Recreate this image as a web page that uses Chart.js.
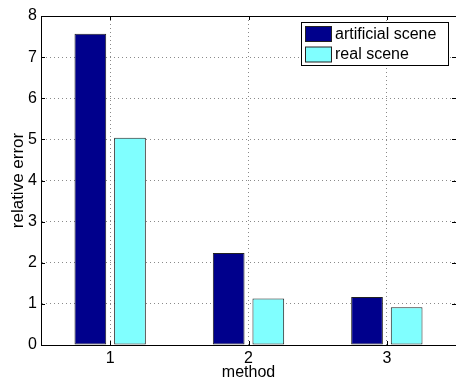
<!DOCTYPE html>
<html>
<head>
<meta charset="utf-8">
<script src="https://cdn.jsdelivr.net/npm/chart.js@4/dist/chart.umd.min.js"></script>
<style>
  html, body { margin: 0; padding: 0; background: #fff; overflow: hidden; }
  #wrap { width: 456px; height: 381px; }
</style>
</head>
<body>
<div id="wrap"><canvas id="c" width="456" height="381"></canvas></div>
<script>
// Relative error of each method for the two scenes
const methods = ['1', '2', '3'];
const artificialScene = [7.57, 2.24, 1.17];
const realScene = [5.04, 1.13, 0.92];
const yTicks = [0, 1, 2, 3, 4, 5, 6, 7, 8];
const seriesNames = ['artificial scene', 'real scene'];
const seriesColors = ['#00008C', '#80FFFF'];

const FONT = 'Liberation Sans, Arial, Helvetica, sans-serif';

// MATLAB-style box: top/right border and inward tick marks on all four sides
const boxAndTicks = {
  id: 'boxAndTicks',
  afterDatasetsDraw(chart) {
    const { ctx, chartArea: a, scales: { x, y } } = chart;
    ctx.save();
    ctx.strokeStyle = '#000';
    ctx.lineWidth = 1;
    ctx.beginPath();
    ctx.moveTo(a.left, Math.round(a.top) + 0.5);
    ctx.lineTo(a.right, Math.round(a.top) + 0.5);
    ctx.moveTo(Math.round(a.right) + 0.5, a.top);
    ctx.lineTo(Math.round(a.right) + 0.5, a.bottom);
    const len = 4;
    yTicks.forEach(v => {
      const py = Math.round(y.getPixelForValue(v)) + 0.5;
      ctx.moveTo(a.left, py); ctx.lineTo(a.left + len, py);
      ctx.moveTo(a.right, py); ctx.lineTo(a.right - len, py);
    });
    methods.forEach((m, i) => {
      const px = Math.round(x.getPixelForValue(i)) + 0.5;
      ctx.moveTo(px, a.bottom); ctx.lineTo(px, a.bottom - len);
      ctx.moveTo(px, a.top); ctx.lineTo(px, a.top + len);
    });
    ctx.stroke();
    ctx.restore();
  }
};

// Boxed legend inside the upper-right corner of the axes
const boxLegend = {
  id: 'boxLegend',
  afterDraw(chart) {
    const { ctx } = chart;
    const bx = 301.5, by = 22.5, bw = 147, bh = 43;
    ctx.save();
    ctx.fillStyle = '#fff';
    ctx.fillRect(bx, by, bw, bh);
    ctx.strokeStyle = '#000';
    ctx.lineWidth = 1;
    ctx.strokeRect(bx, by, bw, bh);
    ctx.font = '16px ' + FONT;
    ctx.textBaseline = 'middle';
    chart.data.datasets.forEach((ds, i) => {
      const rowY = by + 4 + i * 20.5;
      ctx.fillStyle = ds.backgroundColor;
      ctx.fillRect(305.5, rowY, 26, 15);
      ctx.strokeStyle = '#222';
      ctx.strokeRect(305.5, rowY, 26, 15);
      ctx.fillStyle = '#000';
      ctx.fillText(ds.label, 335, rowY + 8);
    });
    ctx.restore();
  }
};

new Chart(document.getElementById('c'), {
  type: 'bar',
  data: {
    labels: methods,
    datasets: [
      { label: seriesNames[0], data: artificialScene, backgroundColor: seriesColors[0],
        borderColor: '#222', borderWidth: 1, borderSkipped: false },
      { label: seriesNames[1], data: realScene, backgroundColor: seriesColors[1],
        borderColor: '#222', borderWidth: 1, borderSkipped: false }
    ]
  },
  options: {
    responsive: false,
    animation: false,
    devicePixelRatio: 1,
    // the axes box runs one pixel past the right edge of the canvas
    layout: { padding: { top: 16, right: -1, left: 0, bottom: 0 } },
    datasets: { bar: { categoryPercentage: 0.573, barPercentage: 0.8 } },
    plugins: { legend: { display: false }, tooltip: { enabled: false } },
    scales: {
      x: {
        grid: { offset: false, drawTicks: false, color: '#8a8a8a', lineWidth: 1 },
        border: { color: '#000', dash: [1, 3], display: true },
        ticks: { color: '#000', padding: 4, font: { family: FONT, size: 16 } },
        title: { display: true, text: 'method', color: '#000',
                 font: { family: FONT, size: 16, lineHeight: 1 }, padding: 0 },
        afterFit(s) { s.height = 36; }
      },
      y: {
        min: 0, max: 8,
        afterBuildTicks(s) { s.ticks = yTicks.map(v => ({ value: v })); },
        grid: { drawTicks: false, color: '#8a8a8a', lineWidth: 1 },
        border: { color: '#000', dash: [1, 3] },
        ticks: { color: '#000', padding: 4, font: { family: FONT, size: 16 } },
        title: { display: true, text: 'relative error', color: '#000',
                 font: { family: FONT, size: 17, lineHeight: 1.2 }, padding: { top: 8, bottom: 0 } },
        afterFit(s) { s.width = 41; }
      }
    }
  },
  plugins: [boxAndTicks, boxLegend]
});
</script>
</body>
</html>
